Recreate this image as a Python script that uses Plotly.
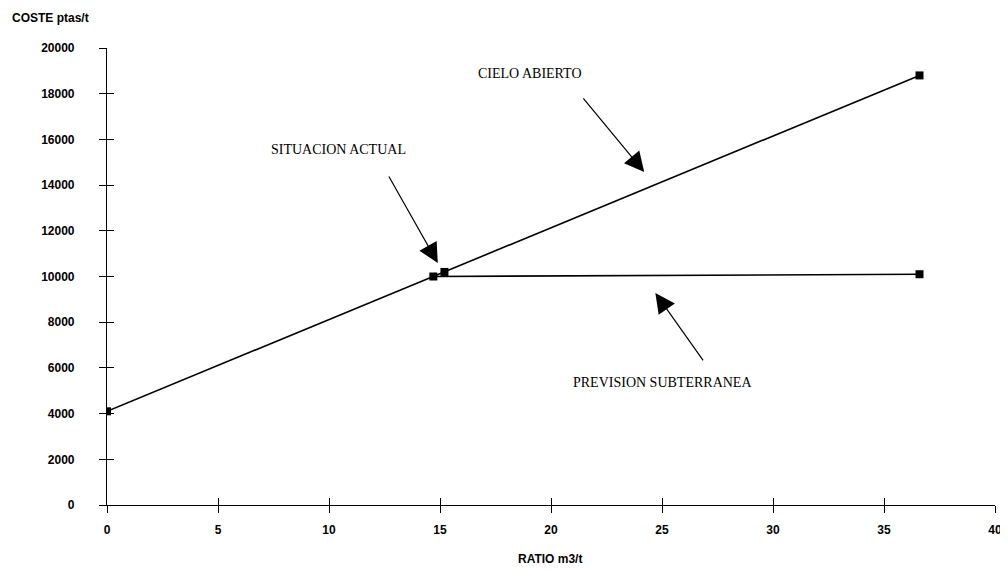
import plotly.graph_objects as go

# Data
cielo_x = [0, 15.2, 36.6]
cielo_y = [4100, 10200, 18800]
sub_x = [14.7, 36.6]
sub_y = [10000, 10100]

x_ticks = [0, 5, 10, 15, 20, 25, 30, 35, 40]
y_ticks = [0, 2000, 4000, 6000, 8000, 10000, 12000, 14000, 16000, 18000, 20000]
y_tick_text = [str(v) for v in y_ticks]

labels = ["SITUACION ACTUAL", "CIELO ABIERTO", "PREVISION SUBTERRANEA"]
label_x = [7.3, 16.6, 20.9]
label_y = [15540, 18900, 5340]
arrow_head_x = [14.9, 24.2, 24.7]
arrow_head_y = [10590, 14570, 9280]
arrow_tail_x = [12.66, 21.4, 26.9]
arrow_tail_y = [14440, 17860, 6260]

fig = go.Figure()
line_style = dict(color="black", width=1.6)
marker_style = dict(symbol="square", size=8, color="black")
fig.add_trace(go.Scatter(x=cielo_x, y=cielo_y, mode="lines+markers",
                         line=line_style, marker=marker_style, showlegend=False))
fig.add_trace(go.Scatter(x=sub_x, y=sub_y, mode="lines+markers",
                         line=line_style, marker=marker_style, showlegend=False))
# invisible trace on overlay axes for inside ticks (cross ticks)
fig.add_trace(go.Scatter(x=[None], y=[None], xaxis="x2", yaxis="y2", showlegend=False))

tickfont = dict(family="Liberation Sans, Arial", size=12, color="black", weight="bold")
common_x = dict(range=[0, 40], tickvals=x_ticks, showgrid=False, zeroline=False,
                showline=True, linecolor="black", linewidth=1.2, tickcolor="black",
                ticklen=7, tickwidth=1.2, automargin=False)
common_y = dict(range=[0, 20000], tickvals=y_ticks, ticktext=y_tick_text, showgrid=False,
                zeroline=False, showline=True, linecolor="black", linewidth=1.2,
                tickcolor="black", ticklen=7, tickwidth=1.2, automargin=False)

annotations = []
for t, lx, ly in zip(labels, label_x, label_y):
    annotations.append(dict(x=lx, y=ly, xref="x", yref="y", text=t, showarrow=False,
                            xanchor="left", yanchor="middle",
                            font=dict(family="Liberation Serif, Times New Roman", size=14, color="black")))
for hx, hy, tx, ty in zip(arrow_head_x, arrow_head_y, arrow_tail_x, arrow_tail_y):
    annotations.append(dict(x=hx, y=hy, xref="x", yref="y", ax=tx, ay=ty, axref="x", ayref="y",
                            text="", showarrow=True, arrowhead=2, arrowsize=3.3,
                            arrowwidth=1.2, arrowcolor="black", standoff=0))
annotations.append(dict(x=-0.109, y=1.066, xref="paper", yref="paper", text="COSTE ptas/t",
                        showarrow=False, xanchor="left", yanchor="middle",
                        font=dict(family="Liberation Sans, Arial", size=12, color="black", weight="bold")))
annotations.append(dict(x=0.499, y=-0.118, xref="paper", yref="paper", text="RATIO m3/t",
                        showarrow=False, xanchor="center", yanchor="middle",
                        font=dict(family="Liberation Sans, Arial", size=12, color="black", weight="bold")))

fig.update_layout(
    width=1000, height=562,
    margin=dict(l=99, r=13, t=40, b=65),
    paper_bgcolor="white", plot_bgcolor="white",
    xaxis=dict(**common_x, ticks="outside", tickfont=tickfont, ticklabelstandoff=6),
    yaxis=dict(**common_y, ticks="outside", tickfont=tickfont, ticklabelstandoff=22),
    xaxis2=dict(**common_x, ticks="inside", overlaying="x", showticklabels=False),
    yaxis2=dict(**common_y, ticks="inside", overlaying="y", showticklabels=False),
    annotations=annotations,
)

fig.write_html("out.html")
